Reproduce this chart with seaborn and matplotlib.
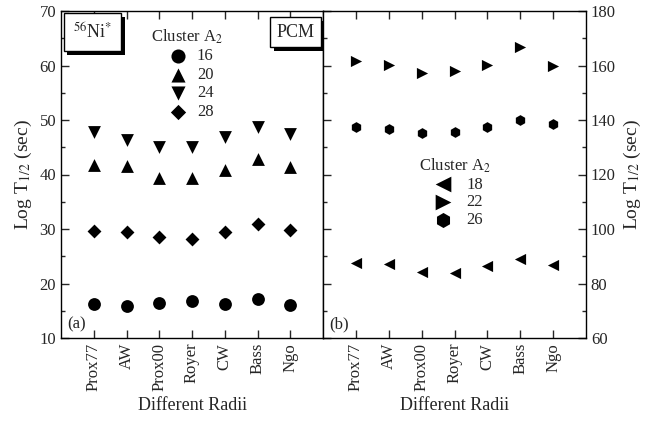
import numpy as np
import pandas as pd
import matplotlib
matplotlib.use('Agg')
import matplotlib.pyplot as plt
import matplotlib.patheffects as pe
from matplotlib.ticker import MultipleLocator
import seaborn as sns

sns.set_style('ticks')
plt.rcParams['font.family'] = ['Liberation Serif', 'DejaVu Serif']
plt.rcParams['mathtext.fontset'] = 'stix'

radii = ['Prox77', 'AW', 'Prox00', 'Royer', 'CW', 'Bass', 'Ngo']

# panel (a) - even clusters
a16 = [16.2, 15.9, 16.5, 16.8, 16.2, 17.1, 16.0]
a20 = [41.8, 41.5, 39.4, 39.4, 40.9, 42.8, 41.3]
a24 = [47.8, 46.4, 45.1, 45.0, 46.9, 48.7, 47.4]
a28 = [29.7, 29.5, 28.5, 28.1, 29.4, 30.9, 29.8]

# panel (b)
a18 = [87.7, 87.3, 84.3, 83.9, 86.3, 88.9, 86.7]
a22 = [161.8, 160.3, 157.3, 157.9, 160.2, 166.8, 159.9]
a26 = [137.3, 136.8, 135.2, 135.7, 137.4, 140.0, 138.4]

fig = plt.figure(figsize=(6.51, 4.25), dpi=100)
ax1 = fig.add_axes([61/651, 87/425, 262/651, 327/425])
ax2 = fig.add_axes([323/651, 87/425, 263/651, 327/425])

left = [(a16, 'o', 85, '16'), (a20, '^', 85, '20'), (a24, 'v', 85, '24'), (a28, 'D', 50, '28')]
for vals, m, s, lab in left:
    sns.scatterplot(x=radii, y=vals, marker=m, s=s, color='black', edgecolor='black',
                    linewidth=0, label=lab, ax=ax1)

right = [(a18, '<', 65, '18'), (a22, '>', 65, '22'), (a26, 'h', 60, '26')]
for vals, m, s, lab in right:
    sns.scatterplot(x=radii, y=vals, marker=m, s=s, color='black', edgecolor='black',
                    linewidth=0, label=lab, ax=ax2)

for ax in (ax1, ax2):
    ax.set_xlim(-1, 7)
    ax.tick_params(axis='x', labelrotation=90, labelsize=12, direction='in', top=True,
                   length=6, width=1)
    ax.tick_params(axis='y', which='both', direction='in', width=1, labelsize=12)
    ax.tick_params(axis='y', which='major', length=6)
    ax.tick_params(axis='y', which='minor', length=3)
    ax.set_xlabel('Different Radii', fontsize=13)
    for sp in ax.spines.values():
        sp.set_linewidth(1)
        sp.set_color('black')

ax1.set_ylim(10, 70)
ax1.yaxis.set_major_locator(MultipleLocator(10))
ax1.yaxis.set_minor_locator(MultipleLocator(5))
ax1.tick_params(axis='y', which='both', left=True, right=False)
ax1.set_ylabel(r'Log T$_{1/2}$ (sec)', fontsize=14, labelpad=4)

ax2.set_ylim(60, 180)
ax2.yaxis.set_major_locator(MultipleLocator(20))
ax2.yaxis.set_minor_locator(MultipleLocator(10))
ax2.yaxis.tick_right()
ax2.yaxis.set_label_position('right')
ax2.tick_params(axis='y', which='both', left=True, right=True, labelleft=False, labelright=True)
ax2.set_ylabel(r'Log T$_{1/2}$ (sec)', fontsize=14, labelpad=4)

leg1 = ax1.legend(title=r'Cluster A$_2$', frameon=False, loc='upper left',
                  bbox_to_anchor=(0.30, 0.985), fontsize=12, title_fontsize=12,
                  handletextpad=0.15, labelspacing=0.15, borderaxespad=0.3,
                  markerscale=1.1)
leg2 = ax2.legend(title=r'Cluster A$_2$', frameon=False, loc='upper left',
                  bbox_to_anchor=(0.32, 0.59), fontsize=12, title_fontsize=12,
                  handletextpad=0.4, labelspacing=0.1, borderaxespad=0.3,
                  markerscale=1.4)

shadow = [pe.withSimplePatchShadow(offset=(2.5, -2.5), shadow_rgbFace='black', alpha=1)]
t1 = ax1.text(0.12, 0.935, r'$^{56}$Ni$^{*}$', transform=ax1.transAxes, fontsize=13,
              ha='center', va='center',
              bbox=dict(boxstyle='square,pad=0.5', fc='white', ec='black', lw=1))
t1.get_bbox_patch().set_path_effects(shadow)
t2 = ax1.text(0.895, 0.935, 'PCM', transform=ax1.transAxes, fontsize=13,
              ha='center', va='center',
              bbox=dict(boxstyle='square,pad=0.35', fc='white', ec='black', lw=1))
t2.get_bbox_patch().set_path_effects(shadow)

ax1.text(0.025, 0.03, '(a)', transform=ax1.transAxes, fontsize=12)
ax2.text(0.025, 0.03, '(b)', transform=ax2.transAxes, fontsize=12)

fig.savefig('out.png', dpi=100)
